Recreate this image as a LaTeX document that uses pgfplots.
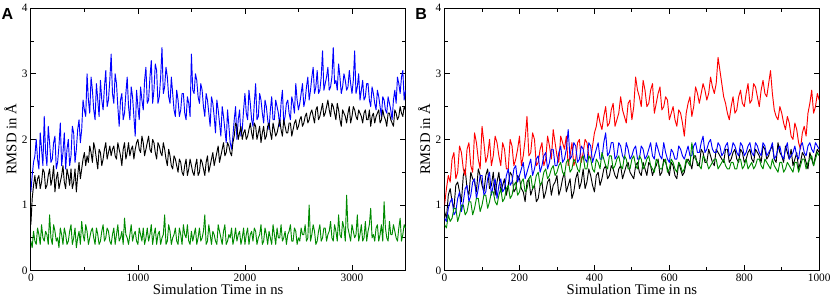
\documentclass[border=0pt]{standalone}
\usepackage{pgfplots}
\pgfplotsset{compat=1.18}
\usepackage{pgfplotstable}
\usepackage{fontspec}
\setmainfont{Liberation Serif}
\newfontfamily\lsans{Liberation Sans}
\definecolor{ggreen}{RGB}{0,139,0}
\pgfplotstableread{
x k b g
0 0.70 1.20 0.45
12.5 1.10 1.45 0.35
25 1.30 1.65 0.60
37.5 1.45 1.75 0.45
50 1.25 2.00 0.40
62.5 1.40 1.70 0.65
75 1.45 1.55 0.55
87.5 1.25 2.10 0.40
100 1.35 1.85 0.70
112.5 1.55 1.60 0.50
125 1.50 2.35 0.45
137.5 1.25 1.80 0.60
150 1.30 1.60 0.55
162.5 1.45 2.20 0.40
175 1.55 1.95 0.85
187.5 1.30 1.65 0.50
200 1.40 1.70 0.40
212.5 1.60 1.95 0.70
225 1.20 2.05 0.60
237.5 1.40 1.55 0.45
250 1.50 1.65 0.50
262.5 1.25 1.90 0.35
275 1.35 2.25 0.65
287.5 1.45 1.60 0.55
300 1.60 1.80 0.40
312.5 1.35 2.10 0.65
325 1.25 1.55 0.55
337.5 1.55 1.85 0.40
350 1.45 2.00 0.45
362.5 1.30 1.60 0.60
375 1.55 1.75 0.70
387.5 1.25 2.20 0.40
400 1.35 2.10 0.50
412.5 1.55 1.65 0.65
425 1.20 1.85 0.35
437.5 1.45 2.15 0.50
450 1.65 2.30 0.60
462.5 1.40 1.95 0.40
475 1.55 2.15 0.75
487.5 1.70 2.60 0.55
500 1.80 2.45 0.45
512.5 1.60 2.35 0.70
525 1.75 3.00 0.60
537.5 1.65 2.60 0.40
550 1.90 2.40 0.50
562.5 1.80 2.95 0.60
575 1.65 2.75 0.65
587.5 1.95 2.45 0.50
600 1.85 2.30 0.40
612.5 1.70 2.85 0.65
625 1.55 2.60 0.55
637.5 1.85 2.35 0.40
650 1.80 2.90 0.45
662.5 1.60 2.60 0.60
675 1.70 2.45 0.70
687.5 1.85 2.80 0.45
700 1.95 3.05 0.50
712.5 1.70 2.50 0.65
725 1.80 2.60 0.60
737.5 1.90 2.90 0.45
750 1.75 3.30 0.40
762.5 1.85 2.70 0.55
775 1.90 2.55 0.65
787.5 1.75 3.00 0.40
800 1.70 2.85 0.55
812.5 1.95 2.50 0.70
825 1.85 2.20 0.45
837.5 1.75 2.60 0.50
850 1.60 2.70 0.60
862.5 1.85 2.30 0.40
875 1.95 2.40 0.80
887.5 1.70 2.70 0.55
900 1.80 2.95 0.50
912.5 1.95 2.50 0.40
925 1.75 2.30 0.55
937.5 1.85 2.80 0.70
950 1.90 2.65 0.45
962.5 1.70 2.35 0.55
975 1.85 2.05 0.60
987.5 1.95 2.75 0.45
1000 2.00 2.50 0.40
1012.5 1.85 2.30 0.65
1025 1.80 2.80 0.55
1037.5 2.05 2.60 0.45
1050 1.95 2.45 0.65
1062.5 1.75 2.90 0.40
1075 1.85 3.10 0.50
1087.5 1.95 2.55 0.65
1100 2.05 2.60 0.45
1112.5 1.85 2.95 0.55
1125 1.80 3.20 0.70
1137.5 2.00 2.55 0.40
1150 1.95 2.75 0.55
1162.5 1.80 3.15 0.65
1175 1.70 3.05 0.40
1187.5 1.95 2.55 0.55
1200 1.90 2.65 0.60
1212.5 1.80 2.95 0.40
1225 1.75 3.40 0.50
1237.5 1.95 2.70 0.55
1250 1.85 2.80 0.85
1262.5 1.70 3.10 0.40
1275 1.60 2.95 0.45
1287.5 1.85 2.65 0.70
1300 1.75 2.55 0.60
1312.5 1.60 2.95 0.40
1325 1.55 2.70 0.50
1337.5 1.75 2.45 0.55
1350 1.70 2.35 0.65
1362.5 1.60 2.75 0.45
1375 1.50 2.60 0.40
1387.5 1.70 2.35 0.65
1400 1.65 2.45 0.55
1412.5 1.50 2.70 0.40
1425 1.45 2.70 0.70
1437.5 1.60 2.40 0.55
1450 1.70 2.30 0.50
1462.5 1.45 2.65 0.70
1475 1.55 2.55 0.45
1487.5 1.70 2.35 0.40
1500 1.60 3.30 0.60
1512.5 1.50 2.75 0.45
1525 1.45 2.70 0.55
1537.5 1.60 3.00 0.65
1550 1.70 2.90 0.40
1562.5 1.45 2.65 0.50
1575 1.50 2.55 0.65
1587.5 1.70 2.85 0.45
1600 1.65 2.75 0.50
1612.5 1.55 2.50 0.60
1625 1.45 2.35 0.85
1637.5 1.65 2.70 0.40
1650 1.75 2.60 0.45
1662.5 1.50 2.40 0.70
1675 1.60 2.20 0.55
1687.5 1.70 2.65 0.40
1700 1.80 2.55 0.60
1712.5 1.60 2.35 0.55
1725 1.70 2.10 0.45
1737.5 1.80 2.60 0.40
1750 1.90 2.45 0.70
1762.5 1.65 2.25 0.60
1775 1.75 2.05 0.50
1787.5 1.85 2.50 0.40
1800 1.95 2.35 0.60
1812.5 1.75 2.15 0.70
1825 1.80 1.95 0.40
1837.5 1.95 2.45 0.45
1850 1.90 2.20 0.55
1862.5 1.80 1.95 0.50
1875 1.75 1.85 0.65
1887.5 1.95 2.05 0.40
1900 2.05 2.30 0.50
1912.5 2.25 2.50 0.65
1925 2.20 2.00 0.45
1937.5 2.00 2.30 0.55
1950 2.10 2.45 0.60
1962.5 2.20 2.05 0.40
1975 2.00 2.15 0.50
1987.5 2.10 2.45 0.65
2000 2.15 2.70 0.40
2012.5 2.00 2.40 0.55
2025 2.05 2.30 0.65
2037.5 2.15 2.75 0.40
2050 2.25 2.55 0.55
2062.5 2.10 2.30 0.60
2075 2.00 2.20 0.45
2087.5 2.25 2.55 0.65
2100 2.20 2.85 0.60
2112.5 2.00 2.30 0.40
2125 2.10 2.35 0.50
2137.5 2.20 2.70 0.55
2150 1.95 2.60 0.70
2162.5 2.10 2.40 0.40
2175 2.20 2.25 0.45
2187.5 2.00 2.60 0.65
2200 2.05 2.50 0.55
2212.5 2.20 2.30 0.40
2225 2.25 2.15 0.60
2237.5 2.10 2.45 0.50
2250 2.00 2.65 0.40
2262.5 2.25 2.30 0.70
2275 2.15 2.30 0.55
2287.5 2.05 2.60 0.40
2300 2.10 2.50 0.65
2312.5 2.20 2.40 0.50
2325 2.30 2.20 0.50
2337.5 2.15 2.55 0.70
2350 2.05 2.75 0.45
2362.5 2.30 2.25 0.50
2375 2.20 2.35 0.60
2387.5 2.10 2.55 0.40
2400 2.10 2.60 0.55
2412.5 2.25 2.40 0.60
2425 2.25 2.30 0.70
2437.5 2.05 2.65 0.45
2450 2.15 2.55 0.45
2462.5 2.25 2.40 0.65
2475 2.30 2.85 0.60
2487.5 2.15 2.60 0.40
2500 2.20 2.45 0.50
2512.5 2.30 2.55 0.45
2525 2.35 2.70 0.65
2537.5 2.20 2.85 0.55
2550 2.25 2.50 0.55
2562.5 2.35 2.60 0.70
2575 2.40 2.80 0.45
2587.5 2.25 2.95 0.50
2600 2.30 2.60 1.00
2612.5 2.40 2.75 0.45
2625 2.45 2.95 0.55
2637.5 2.35 3.10 0.70
2650 2.25 2.70 0.60
2662.5 2.45 2.80 0.40
2675 2.50 3.05 0.45
2687.5 2.30 2.70 0.60
2700 2.35 2.75 0.70
2712.5 2.45 2.95 0.45
2725 2.55 3.35 0.50
2737.5 2.35 2.75 0.65
2750 2.40 2.85 0.65
2762.5 2.50 2.95 0.45
2775 2.60 3.10 0.55
2787.5 2.45 2.75 0.60
2800 2.35 2.80 0.75
2812.5 2.55 2.95 0.50
2825 2.50 3.40 0.45
2837.5 2.40 2.85 0.70
2850 2.30 2.90 0.60
2862.5 2.55 2.75 0.45
2875 2.45 3.15 0.85
2887.5 2.30 2.95 0.55
2900 2.20 2.70 0.50
2912.5 2.45 2.80 0.75
2925 2.40 3.00 0.65
2937.5 2.35 2.90 0.45
2950 2.25 2.75 1.15
2962.5 2.40 2.80 0.65
2975 2.50 3.05 0.55
2987.5 2.25 2.85 0.45
3000 2.35 2.70 0.70
3012.5 2.50 2.90 0.60
3025 2.45 3.35 0.50
3037.5 2.35 2.70 0.55
3050 2.30 2.80 0.85
3062.5 2.45 3.00 0.45
3075 2.40 2.60 0.55
3087.5 2.35 2.75 0.70
3100 2.25 2.90 0.45
3112.5 2.40 2.60 0.50
3125 2.45 2.65 0.75
3137.5 2.30 2.85 0.45
3150 2.30 2.85 0.60
3162.5 2.45 2.60 0.70
3175 2.20 2.50 0.95
3187.5 2.35 2.80 0.50
3200 2.40 2.70 0.55
3212.5 2.25 2.55 0.45
3225 2.35 2.45 0.65
3237.5 2.40 2.75 0.70
3250 2.45 2.65 0.45
3262.5 2.25 2.50 0.55
3275 2.30 2.35 0.70
3287.5 2.45 2.65 0.45
3300 2.35 2.60 1.05
3312.5 2.30 2.45 0.65
3325 2.20 2.40 0.50
3337.5 2.40 2.65 0.45
3350 2.40 2.55 0.75
3362.5 2.30 2.45 0.55
3375 2.25 2.30 0.55
3387.5 2.20 2.60 0.70
3400 2.45 2.75 0.60
3412.5 2.40 2.55 0.50
3425 2.30 2.95 0.45
3437.5 2.35 2.85 0.65
3450 2.50 2.70 0.80
3462.5 2.40 2.95 0.45
3475 2.35 3.05 0.55
3487.5 2.50 2.60 0.70
3500 2.45 2.75 0.65
}\dataA
\pgfplotstableread{
x k r b g
0 0.90 1.00 0.80 0.70
5 0.80 1.25 0.75 0.65
10 1.15 1.45 0.95 0.85
15 1.25 1.35 1.05 0.75
20 1.05 1.70 1.10 0.80
25 0.95 1.80 0.85 0.95
30 1.30 1.40 0.90 0.95
35 1.35 1.50 1.10 0.75
40 1.20 1.90 1.20 0.85
45 1.05 1.80 0.90 1.00
50 1.45 1.55 1.05 1.00
55 1.55 1.45 1.25 0.85
60 1.25 1.85 1.30 0.90
65 1.15 1.95 1.05 1.05
70 1.50 1.60 1.15 1.05
75 1.40 1.50 1.35 0.85
80 1.35 2.10 1.40 0.95
85 1.20 1.95 1.10 1.10
90 1.55 1.70 1.25 1.10
95 1.45 1.55 1.45 0.90
100 1.30 2.20 1.45 1.00
105 1.20 1.95 1.15 1.15
110 1.45 1.65 1.20 1.15
115 1.55 1.75 1.40 0.95
120 1.25 2.00 1.50 1.05
125 1.30 1.60 1.15 1.20
130 1.50 1.75 1.30 1.20
135 1.15 2.05 1.40 1.05
140 1.35 1.95 1.10 1.00
145 1.50 1.75 1.30 1.15
150 1.20 1.60 1.40 1.25
155 1.30 1.95 1.20 1.05
160 1.40 1.85 1.25 1.10
165 1.15 1.55 1.45 1.25
170 1.30 1.55 1.55 1.30
175 1.50 2.00 1.30 1.10
180 1.45 1.90 1.35 1.15
185 1.20 1.60 1.55 1.30
190 1.25 1.70 1.60 1.35
195 1.45 1.85 1.35 1.15
200 1.40 2.05 1.45 1.20
205 1.25 1.60 1.55 1.35
210 1.20 1.75 1.65 1.40
215 1.05 2.00 1.40 1.20
220 1.35 2.35 1.50 1.25
225 1.40 1.75 1.60 1.40
230 1.15 1.80 1.70 1.45
235 1.25 2.10 1.45 1.25
240 1.30 2.00 1.55 1.30
245 1.05 1.60 1.70 1.45
250 1.10 1.65 1.75 1.50
255 1.30 1.85 1.50 1.30
260 1.35 1.95 1.60 1.35
265 1.10 1.60 1.75 1.50
270 1.20 1.70 1.80 1.55
275 1.35 2.05 1.55 1.40
280 1.40 1.90 1.65 1.45
285 1.15 1.70 1.85 1.55
290 1.30 2.15 1.85 1.60
295 1.35 1.95 1.60 1.45
300 1.45 1.75 1.60 1.50
305 1.15 1.65 1.80 1.60
310 1.25 2.05 1.90 1.65
315 1.40 1.95 1.65 1.50
320 1.50 1.85 1.70 1.45
325 1.20 2.05 1.85 1.65
330 1.30 1.60 2.15 1.70
335 1.40 1.75 1.70 1.50
340 1.10 1.95 1.75 1.55
345 1.20 1.60 1.95 1.70
350 1.40 1.70 1.90 1.65
355 1.50 1.95 1.65 1.55
360 1.25 2.00 1.70 1.50
365 1.35 1.65 1.90 1.70
370 1.55 1.80 1.85 1.75
375 1.25 2.00 1.70 1.55
380 1.35 1.95 1.65 1.55
385 1.55 1.75 1.95 1.75
390 1.45 1.70 1.90 1.70
395 1.30 1.90 1.65 1.55
400 1.20 2.10 1.75 1.50
405 1.45 2.20 1.85 1.70
410 1.50 2.40 1.95 1.65
415 1.30 2.25 1.70 1.55
420 1.40 2.15 1.70 1.80
425 1.55 2.35 1.95 1.70
430 1.60 2.50 2.10 1.60
435 1.40 2.20 1.75 1.55
440 1.45 2.25 1.80 1.75
445 1.60 2.45 1.95 1.75
450 1.55 2.55 1.95 1.55
455 1.45 2.20 1.70 1.60
460 1.40 2.30 1.75 1.70
465 1.55 2.40 1.95 1.75
470 1.60 2.65 1.90 1.60
475 1.40 2.45 1.75 1.55
480 1.50 2.35 1.70 1.75
485 1.60 2.25 1.95 1.70
490 1.65 2.55 1.85 1.55
495 1.50 2.60 1.70 1.55
500 1.45 2.30 1.75 1.70
505 1.40 2.50 1.85 1.75
510 1.60 2.95 1.90 1.60
515 1.65 2.75 1.70 1.55
520 1.50 2.65 1.70 1.75
525 1.45 2.50 1.90 1.70
530 1.65 2.90 1.85 1.55
535 1.55 2.75 1.70 1.60
540 1.45 2.50 1.75 1.70
545 1.65 2.55 1.85 1.75
550 1.60 2.75 1.95 1.60
555 1.45 2.85 1.75 1.55
560 1.55 2.40 1.70 1.50
565 1.60 2.55 1.95 1.70
570 1.70 2.70 1.85 1.65
575 1.45 2.80 1.75 1.55
580 1.50 2.45 1.70 1.55
585 1.70 2.50 1.95 1.65
590 1.65 2.65 1.80 1.70
595 1.55 2.60 1.70 1.50
600 1.45 2.30 1.65 1.55
605 1.65 2.40 1.85 1.70
610 1.60 2.50 1.80 1.65
615 1.45 2.30 1.70 1.55
620 1.40 2.20 1.70 1.50
625 1.65 2.45 1.90 1.65
630 1.55 2.40 1.85 1.60
635 1.45 2.25 1.75 1.50
640 1.50 2.05 1.70 1.55
645 1.65 2.40 1.80 1.70
650 1.70 2.55 1.90 1.65
655 1.65 2.65 1.75 1.60
660 1.55 2.35 1.75 1.95
665 1.75 2.50 1.90 1.75
670 1.75 2.80 1.95 1.70
675 1.60 2.70 1.80 1.65
680 1.60 2.55 1.80 1.60
685 1.85 2.70 1.95 1.55
690 1.80 2.85 2.05 1.75
695 1.65 2.75 1.80 1.70
700 1.65 2.60 1.85 1.65
705 1.85 2.70 1.95 1.55
710 1.75 2.95 2.00 1.60
715 1.65 2.80 1.85 1.65
720 1.60 2.70 1.80 1.70
725 1.85 2.85 1.80 1.70
730 1.80 3.25 1.95 1.55
735 1.75 3.05 1.90 1.60
740 1.70 2.85 1.75 1.65
745 1.65 2.65 1.80 1.70
750 1.85 2.55 1.90 1.60
755 1.85 2.40 1.95 1.55
760 1.65 2.30 1.75 1.55
765 1.70 2.50 1.80 1.65
770 1.80 2.65 1.95 1.65
775 1.85 2.40 1.90 1.55
780 1.70 2.45 1.80 1.55
785 1.65 2.65 1.75 1.70
790 1.85 2.75 1.95 1.70
795 1.80 2.55 1.90 1.55
800 1.65 2.50 1.75 1.60
805 1.70 2.70 1.80 1.70
810 1.80 2.85 1.90 1.55
815 1.85 2.55 1.95 1.60
820 1.70 2.60 1.80 1.65
825 1.65 2.85 1.75 1.55
830 1.85 2.80 1.95 1.60
835 1.80 2.65 1.90 1.70
840 1.75 2.50 1.80 1.70
845 1.65 2.75 1.75 1.60
850 1.90 2.90 1.95 1.55
855 1.85 2.70 1.90 1.70
860 1.70 2.65 1.75 1.65
865 1.75 2.85 1.80 1.60
870 1.85 3.05 1.85 1.55
875 1.90 2.70 1.95 1.70
880 1.70 2.45 1.70 1.60
885 1.65 2.35 1.75 1.55
890 1.95 2.30 1.85 1.50
895 1.80 2.50 1.90 1.65
900 1.75 2.40 1.75 1.65
905 1.65 2.25 1.70 1.50
910 1.90 2.15 1.85 1.55
915 1.80 2.35 1.95 1.65
920 1.70 2.25 1.70 1.60
925 1.85 2.05 1.75 1.55
930 1.60 2.00 1.80 1.50
935 1.70 2.25 1.90 1.65
940 1.80 2.15 1.75 1.65
945 1.55 1.95 1.70 1.50
950 1.65 1.85 1.90 1.60
955 1.80 2.10 1.95 1.70
960 1.75 2.20 1.80 1.70
965 1.65 2.05 1.75 1.55
970 1.55 2.40 1.90 1.65
975 1.80 2.55 1.95 1.70
980 1.70 2.75 1.85 1.75
985 1.60 2.40 1.80 1.60
990 1.75 2.50 1.95 1.70
995 1.85 2.70 1.90 1.80
1000 1.80 2.60 1.85 1.75
}\dataB
\pgfplotsset{
  rmsd/.style={
    scale only axis, width=280.5pt, height=196.5pt,
    ymin=0, ymax=4, ytick={0,1,2,3,4},
    minor y tick num=1, minor x tick num=1,
    tick align=inside, major tick length=4pt, minor tick length=2.5pt,
    axis line style={line width=0.9pt}, every tick/.style={line width=0.6pt, black},
    /pgf/number format/assume math mode=true,
    /pgf/number format/set thousands separator={},
    ticklabel style={font=\fontsize{8.5}{9}\selectfont},
    xticklabel style={yshift=1pt},
    yticklabel style={xshift=1pt},
    label style={font=\fontsize{11}{12}\selectfont},
    xlabel={Simulation Time in ns},
    ylabel={RMSD in Å},
    xlabel style={yshift=5pt},
    ylabel style={yshift=-3pt},
    every axis plot/.append style={line width=0.7pt, line join=round},
    clip=true,
  }
}
\begin{document}
\begin{tikzpicture}
\begin{axis}[rmsd, name=A, xmin=0, xmax=3500, xtick={0,1000,2000,3000}]
\addplot[blue] table[x=x, y=b] {\dataA};
\addplot[black] table[x=x, y=k] {\dataA};
\addplot[ggreen] table[x=x, y=g] {\dataA};
\end{axis}
\node[anchor=north west, inner sep=0pt, font=\lsans\bfseries\fontsize{12}{13}\selectfont] at ([xshift=-22pt]A.north west) {A};
\begin{axis}[rmsd, name=B, xshift=309.75pt, xmin=0, xmax=1000, xtick={0,200,400,600,800,1000}]
\addplot[black] table[x=x, y=k] {\dataB};
\addplot[red] table[x=x, y=r] {\dataB};
\addplot[blue] table[x=x, y=b] {\dataB};
\addplot[ggreen] table[x=x, y=g] {\dataB};
\end{axis}
\node[anchor=north west, inner sep=0pt, font=\lsans\bfseries\fontsize{12}{13}\selectfont] at ([xshift=-22pt]B.north west) {B};
\end{tikzpicture}
\end{document}
